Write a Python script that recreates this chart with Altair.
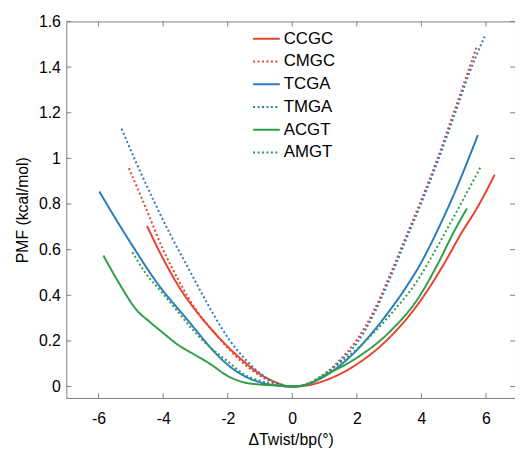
import altair as alt
import pandas as pd

series = ["CCGC", "CMGC", "TCGA", "TMGA", "ACGT", "AMGT"]
colors = ["#E8432E", "#E8432E", "#2B7BBF", "#2B7BBF", "#2E9E48", "#2E9E48"]
dashes = [[1, 0], [2, 2.5], [1, 0], [2, 2.5], [1, 0], [2, 2.5]]

ccgc_x = [-4.5, -4.0, -3.5, -3.0, -2.5, -2.0, -1.5, -1.0, -0.5, 0, 0.5, 1.0, 2.0, 3.0, 3.95, 4.71, 5.22, 5.73, 6.27]
ccgc_y = [0.704, 0.56, 0.435, 0.335, 0.25, 0.175, 0.11, 0.055, 0.018, 0, 0.006, 0.026, 0.098, 0.213, 0.372, 0.54, 0.668, 0.784, 0.928]

cmgc_x = [-5.06, -4.5, -4.0, -3.5, -3.0, -2.5, -2.0, -1.5, -1.0, -0.5, 0, 0.5, 1.0, 1.5, 2.0, 2.5, 3.0, 3.5, 4.0, 4.5, 5.0, 5.71]
cmgc_y = [0.957, 0.77, 0.60, 0.46, 0.34, 0.25, 0.17, 0.10, 0.048, 0.012, 0, 0.014, 0.055, 0.12, 0.205, 0.325, 0.48, 0.65, 0.82, 1.0, 1.2, 1.487]

tcga_x = [-5.98, -5.08, -4.06, -3.55, -3.04, -2.53, -2.02, -1.51, -1.0, -0.5, 0, 0.5, 1.0, 1.5, 2.0, 2.5, 3.0, 3.5, 4.0, 4.5, 5.0, 5.75]
tcga_y = [0.855, 0.646, 0.43, 0.343, 0.257, 0.17, 0.098, 0.048, 0.019, 0.005, 0, 0.012, 0.045, 0.095, 0.16, 0.24, 0.33, 0.43, 0.545, 0.685, 0.84, 1.102]

tmga_x = [-5.29, -4.78, -4.26, -3.76, -3.24, -2.94, -2.43, -1.92, -1.41, -0.9, -0.39, 0, 0.5, 1.0, 1.5, 2.0, 2.5, 3.0, 3.5, 4.0, 4.5, 5.0, 5.5, 5.96]
tmga_y = [1.13, 0.964, 0.805, 0.661, 0.524, 0.444, 0.314, 0.199, 0.113, 0.048, 0.011, 0, 0.013, 0.052, 0.113, 0.19, 0.31, 0.465, 0.635, 0.805, 0.985, 1.18, 1.38, 1.534]

acgt_x = [-5.85, -5.39, -4.78, -4.47, -4.06, -3.55, -3.04, -2.53, -2.02, -1.51, -1.0, -0.5, 0, 0.5, 0.99, 2.01, 3.03, 3.9, 4.51, 5.02, 5.41]
acgt_y = [0.574, 0.459, 0.329, 0.29, 0.242, 0.184, 0.141, 0.098, 0.048, 0.019, 0.009, 0.005, 0, 0.012, 0.048, 0.127, 0.242, 0.387, 0.538, 0.682, 0.78]

amgt_x = [-4.95, -4.57, -4.06, -3.55, -3.04, -2.53, -2.02, -1.51, -1.0, -0.5, 0, 0.5, 0.99, 2.01, 3.03, 3.9, 4.2, 4.71, 5.22, 5.84]
amgt_y = [0.589, 0.502, 0.416, 0.329, 0.242, 0.17, 0.113, 0.055, 0.026, 0.008, 0, 0.014, 0.055, 0.165, 0.314, 0.47, 0.54, 0.668, 0.8, 0.964]

x_ticks = [-6, -4, -2, 0, 2, 4, 6]
y_ticks = [0, 0.2, 0.4, 0.6, 0.8, 1.0, 1.2, 1.4, 1.6]

xs = [ccgc_x, cmgc_x, tcga_x, tmga_x, acgt_x, amgt_x]
ys = [ccgc_y, cmgc_y, tcga_y, tmga_y, acgt_y, amgt_y]
rows = []
for name, xv, yv in zip(series, xs, ys):
    for i, (a, b) in enumerate(zip(xv, yv)):
        rows.append({"series": name, "x": a, "y": b, "i": i})
df = pd.DataFrame(rows)

W, H = 454, 381
FONT = "Liberation Sans"
FS = 16
xscale = alt.Scale(domain=[-7, 6.9], nice=False, zero=False)
yscale = alt.Scale(domain=[-0.05, 1.6], nice=False, zero=False)

legend = alt.Legend(
    orient="none", legendX=188, legendY=3, title=None,
    symbolType="stroke", symbolSize=729, symbolStrokeWidth=2,
    labelFontSize=FS + 1, labelFont=FONT, labelColor="black",
    labelOffset=3, padding=0, rowPadding=-3,
)

lines = alt.Chart(df).mark_line(strokeWidth=2, interpolate="monotone").encode(
    x=alt.X("x:Q", scale=xscale,
            axis=alt.Axis(values=x_ticks, title="ΔTwist/bp(°)", labelExpr="'' + datum.value",
                          tickSize=0, grid=False)),
    y=alt.Y("y:Q", scale=yscale,
            axis=alt.Axis(values=y_ticks, title="PMF (kcal/mol)", format="~g",
                          tickSize=0, grid=False)),
    color=alt.Color("series:N", scale=alt.Scale(domain=series, range=colors), legend=legend),
    strokeDash=alt.StrokeDash("series:N", scale=alt.Scale(domain=series, range=dashes), legend=legend),
    order="i:Q",
    detail="series:N",
)

xt = pd.DataFrame({"t": x_ticks})
yt = pd.DataFrame({"t": y_ticks})
tick_col = "#808080"
xb = alt.Chart(xt).mark_rule(color=tick_col, strokeWidth=1).encode(
    x=alt.X("t:Q", scale=xscale), y=alt.value(H), y2=alt.value(H - 5))
xtop = alt.Chart(xt).mark_rule(color=tick_col, strokeWidth=1).encode(
    x=alt.X("t:Q", scale=xscale), y=alt.value(0), y2=alt.value(5))
yl = alt.Chart(yt).mark_rule(color=tick_col, strokeWidth=1).encode(
    y=alt.Y("t:Q", scale=yscale), x=alt.value(0), x2=alt.value(5))
yr = alt.Chart(yt).mark_rule(color=tick_col, strokeWidth=1).encode(
    y=alt.Y("t:Q", scale=yscale), x=alt.value(W), x2=alt.value(W - 5))

chart = alt.layer(lines, xb, xtop, yl, yr).properties(
    width=W, height=H,
    autosize=alt.AutoSizeParams(type="none"),
    padding={"left": 59, "top": 11, "right": 0, "bottom": 49},
).configure_view(stroke=tick_col, strokeWidth=1).configure_axis(
    domain=False, labelFont=FONT, titleFont=FONT, labelFontSize=FS, titleFontSize=FS,
    labelColor="black", titleColor="black", titleFontWeight="normal",
).configure_axisX(labelPadding=13, titlePadding=5).configure_axisY(labelPadding=6, titlePadding=8)

chart.save("out.html", embed_options={"renderer": "svg", "actions": False})
